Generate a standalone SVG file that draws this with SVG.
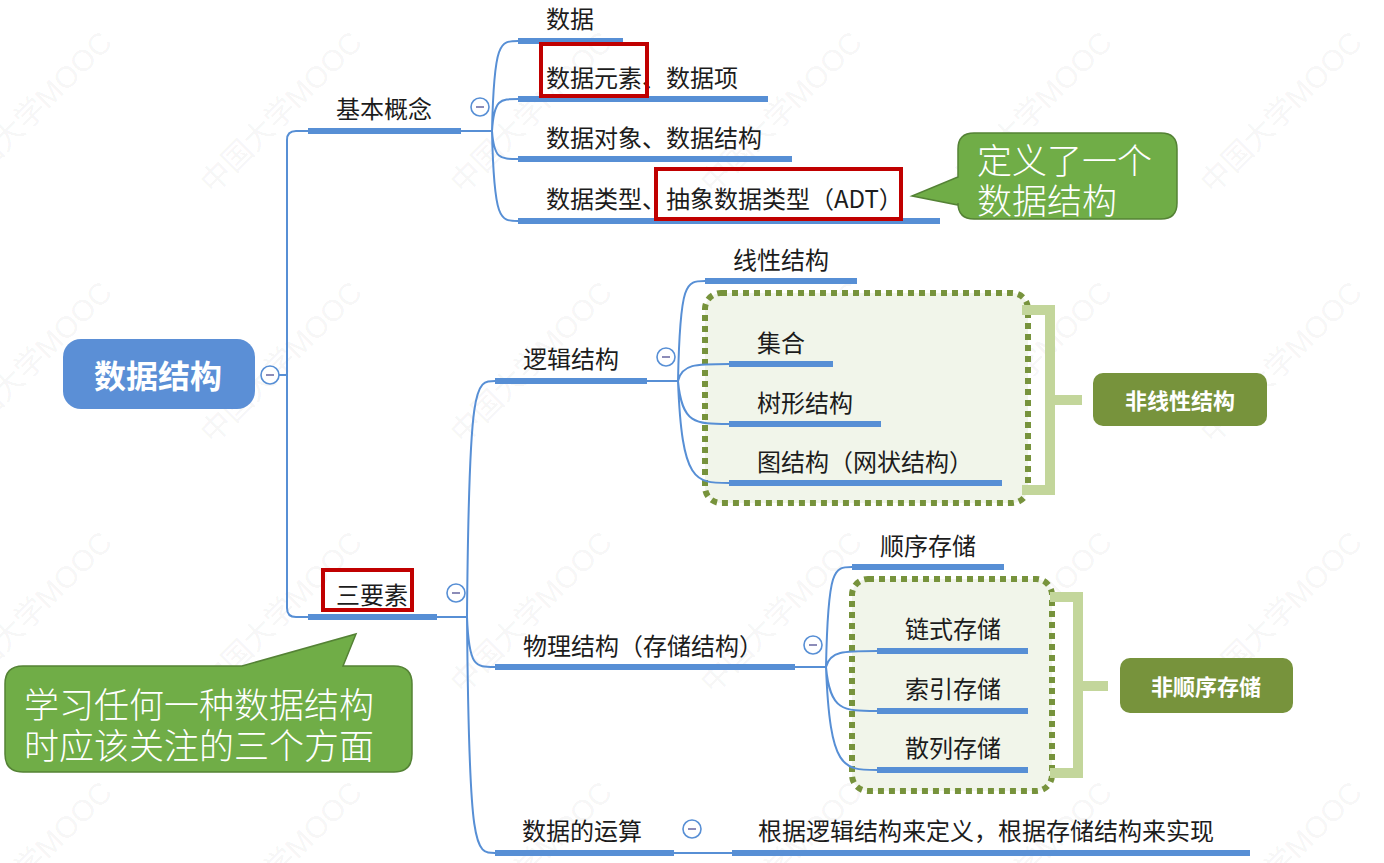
<svg xmlns="http://www.w3.org/2000/svg" width="1384" height="863" viewBox="0 0 1384 863">
<style>
.wm{font-family:"Liberation Sans","Noto Sans CJK SC",sans-serif;font-size:30px;fill:#000;fill-opacity:0.055}
.conn{fill:none;stroke:#578FD5;stroke-width:2}
.bar{fill:#578FD5}
.lbl{font-family:"Noto Sans CJK SC","Noto Sans CJK JP",sans-serif;font-size:24px;fill:#1C1C1C;dominant-baseline:central}
.col{fill:#fff;stroke:#578FD5;stroke-width:1.6}
.minus{stroke:#8C8CB8;stroke-width:2}
.red{fill:none;stroke:#C00000;stroke-width:4}
.dot{fill:#F1F5EA;stroke:#77933C;stroke-width:6;stroke-dasharray:6 5}
.brk{fill:none;stroke:#C3D69B;stroke-width:10}
.tag{fill:#77933C}
.tagt{font-family:"Noto Sans CJK SC",sans-serif;font-size:22px;font-weight:bold;fill:#fff;text-anchor:middle;dominant-baseline:central}
.call{fill:#70AD47;stroke:#548235;stroke-width:1.5}
.callt{font-family:"Noto Sans CJK SC",sans-serif;font-size:35px;font-weight:300;fill:#fff;dominant-baseline:central}
</style>
<rect width="1384" height="863" fill="#fff"/>
<g id="watermark">
<text class="wm" transform="translate(-37,195) rotate(-45)">中国大学MOOC</text>
<text class="wm" transform="translate(213,195) rotate(-45)">中国大学MOOC</text>
<text class="wm" transform="translate(463,195) rotate(-45)">中国大学MOOC</text>
<text class="wm" transform="translate(713,195) rotate(-45)">中国大学MOOC</text>
<text class="wm" transform="translate(963,195) rotate(-45)">中国大学MOOC</text>
<text class="wm" transform="translate(1213,195) rotate(-45)">中国大学MOOC</text>
<text class="wm" transform="translate(-37,445) rotate(-45)">中国大学MOOC</text>
<text class="wm" transform="translate(213,445) rotate(-45)">中国大学MOOC</text>
<text class="wm" transform="translate(463,445) rotate(-45)">中国大学MOOC</text>
<text class="wm" transform="translate(713,445) rotate(-45)">中国大学MOOC</text>
<text class="wm" transform="translate(963,445) rotate(-45)">中国大学MOOC</text>
<text class="wm" transform="translate(1213,445) rotate(-45)">中国大学MOOC</text>
<text class="wm" transform="translate(-37,695) rotate(-45)">中国大学MOOC</text>
<text class="wm" transform="translate(213,695) rotate(-45)">中国大学MOOC</text>
<text class="wm" transform="translate(463,695) rotate(-45)">中国大学MOOC</text>
<text class="wm" transform="translate(713,695) rotate(-45)">中国大学MOOC</text>
<text class="wm" transform="translate(963,695) rotate(-45)">中国大学MOOC</text>
<text class="wm" transform="translate(1213,695) rotate(-45)">中国大学MOOC</text>
<text class="wm" transform="translate(-37,945) rotate(-45)">中国大学MOOC</text>
<text class="wm" transform="translate(213,945) rotate(-45)">中国大学MOOC</text>
<text class="wm" transform="translate(463,945) rotate(-45)">中国大学MOOC</text>
<text class="wm" transform="translate(713,945) rotate(-45)">中国大学MOOC</text>
<text class="wm" transform="translate(963,945) rotate(-45)">中国大学MOOC</text>
<text class="wm" transform="translate(1213,945) rotate(-45)">中国大学MOOC</text>
</g>
<g id="groups">
<rect class="dot" x="705" y="293" width="323" height="210" rx="16"/>
<rect class="dot" x="852" y="579" width="200" height="212" rx="16"/>
<path class="brk" d="M1022,310 H1050 V490 H1022 M1050,400 H1082"/>
<path class="brk" d="M1050,597 H1078 V773 H1050 M1078,686 H1108"/>
</g>
<g id="connectors">
<path class="conn" d="M279,375 H287 M308,131 H296 Q287,131 287,140 V608 Q287,617 296,617 H308"/>
<path class="conn" d="M461,131 H492 M492,131 C494,41 500,41 518,41 M492,131 C494,99 500,99 518,99 M492,131 C494,159 500,159 518,159 M492,131 C494,221 500,221 518,221"/>
<path class="conn" d="M437,617 H467 M467,617 C469,381 475,381 495,381 M467,617 C469,667 475,667 495,667 M467,617 C469,853 475,853 495,853"/>
<path class="conn" d="M647,381 H678 M678,381 C680,281 686,281 705,281 M678,381 C682,364 695,364 729,364 M678,381 C682,424 695,424 729,424 M678,381 C682,483 695,483 729,483"/>
<path class="conn" d="M795,667 H826 M826,667 C828,567 834,567 852,567 M826,667 C830,651 843,651 877,651 M826,667 C830,711 843,711 877,711 M826,667 C830,770 843,770 877,770"/>
<path class="conn" d="M674,853 H732"/>
</g>
<g id="root">
<rect x="63" y="339" width="192" height="70" rx="18" fill="#5B8FD6"/>
<text x="158" y="374" font-family="Noto Sans CJK SC,sans-serif" font-size="32" font-weight="bold" fill="#fff" text-anchor="middle" dominant-baseline="central">数据结构</text>
<circle class="col" cx="270" cy="375" r="9"/><line class="minus" x1="266" y1="375" x2="274" y2="375"/>
</g>
<g id="n-jbgn">
<rect class="bar" x="308" y="128" width="153" height="6"/>
<text class="lbl" x="336" y="107">基本概念</text>
<circle class="col" cx="480" cy="107" r="9"/><line class="minus" x1="476" y1="107" x2="484" y2="107"/>
</g>
<g id="n-shuju"><rect class="bar" x="518" y="38" width="105" height="6"/><text class="lbl" x="546" y="17">数据</text></g>
<g id="n-yuansu"><rect class="bar" x="518" y="96" width="250" height="6"/><text class="lbl" x="546" y="76">数据元素、数据项</text></g>
<g id="n-duixiang"><rect class="bar" x="518" y="156" width="274" height="6"/><text class="lbl" x="546" y="136">数据对象、数据结构</text></g>
<g id="n-leixing"><rect class="bar" x="518" y="218" width="422" height="6"/><text class="lbl" x="546" y="197">数据类型、抽象数据类型（ADT）</text></g>
<g id="n-sanyaosu">
<rect class="bar" x="308" y="614" width="129" height="6"/>
<text class="lbl" x="336" y="593">三要素</text>
<circle class="col" cx="456" cy="593" r="9"/><line class="minus" x1="452" y1="593" x2="460" y2="593"/>
</g>
<g id="n-luoji">
<rect class="bar" x="495" y="378" width="152" height="6"/>
<text class="lbl" x="523" y="357">逻辑结构</text>
<circle class="col" cx="666" cy="357" r="9"/><line class="minus" x1="662" y1="357" x2="670" y2="357"/>
</g>
<g id="n-wuli">
<rect class="bar" x="495" y="664" width="300" height="6"/>
<text class="lbl" x="523" y="644">物理结构（存储结构）</text>
<circle class="col" cx="813" cy="645" r="9"/><line class="minus" x1="809" y1="645" x2="817" y2="645"/>
</g>
<g id="n-yunsuan">
<rect class="bar" x="495" y="850" width="179" height="6"/>
<text class="lbl" x="522" y="829">数据的运算</text>
<circle class="col" cx="692" cy="829" r="9"/><line class="minus" x1="688" y1="829" x2="696" y2="829"/>
</g>
<g id="n-yunsuan-desc"><rect class="bar" x="732" y="850" width="518" height="6"/><text class="lbl" x="758" y="829">根据逻辑结构来定义，根据存储结构来实现</text></g>
<g id="n-xianxing"><rect class="bar" x="705" y="278" width="152" height="6"/><text class="lbl" x="733" y="258">线性结构</text></g>
<g id="n-jihe"><rect class="bar" x="729" y="361" width="104" height="6"/><text class="lbl" x="757" y="341">集合</text></g>
<g id="n-shuxing"><rect class="bar" x="729" y="421" width="152" height="6"/><text class="lbl" x="757" y="401">树形结构</text></g>
<g id="n-tu"><rect class="bar" x="729" y="480" width="273" height="6"/><text class="lbl" x="757" y="460">图结构（网状结构）</text></g>
<g id="n-shunxu"><rect class="bar" x="852" y="564" width="152" height="6"/><text class="lbl" x="880" y="544">顺序存储</text></g>
<g id="n-lianshi"><rect class="bar" x="877" y="648" width="151" height="6"/><text class="lbl" x="905" y="627">链式存储</text></g>
<g id="n-suoyin"><rect class="bar" x="877" y="708" width="151" height="6"/><text class="lbl" x="905" y="687">索引存储</text></g>
<g id="n-sanlie"><rect class="bar" x="877" y="767" width="151" height="6"/><text class="lbl" x="905" y="746">散列存储</text></g>
<g id="tag-feixianxing"><rect class="tag" x="1093" y="373" width="174" height="53" rx="10"/><text class="tagt" x="1180" y="399">非线性结构</text></g>
<g id="tag-feishunxu"><rect class="tag" x="1120" y="658" width="173" height="55" rx="10"/><text class="tagt" x="1206" y="685">非顺序存储</text></g>
<g id="highlights">
<rect class="red" x="541" y="44" width="106" height="52"/>
<rect class="red" x="656" y="169" width="245" height="50"/>
<rect class="red" x="323" y="570" width="89" height="40"/>
</g>
<g id="callout-adt">
<path class="call" d="M974,133 H1161 Q1177,133 1177,149 V203 Q1177,219 1161,219 H974 Q958,219 958,203 V205 L912,196 L958,177 V149 Q958,133 974,133 Z"/>
<text class="callt" x="977" y="158">定义了一个</text>
<text class="callt" x="977" y="198">数据结构</text>
</g>
<g id="callout-three">
<path class="call" d="M23,666 H242 L356,634 L343,666 H394 Q412,666 412,684 V754 Q412,772 394,772 H23 Q5,772 5,754 V684 Q5,666 23,666 Z"/>
<text class="callt" x="24" y="702">学习任何一种数据结构</text>
<text class="callt" x="24" y="743">时应该关注的三个方面</text>
</g>
</svg>
